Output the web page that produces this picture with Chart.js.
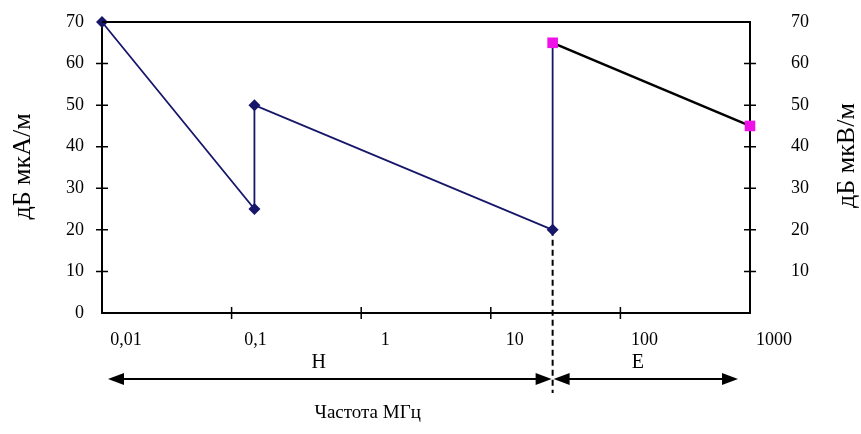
<!DOCTYPE html>
<html>
<head>
<meta charset="utf-8">
<script src="https://cdn.jsdelivr.net/npm/chart.js@4.4.1/dist/chart.umd.min.js"></script>
<style>
html,body{margin:0;padding:0;background:#fff;}
canvas{display:block;}
</style>
</head>
<body>
<canvas id="c" width="861" height="434"></canvas>
<script>
// ---- data ----
const freqH  = [0.01, 0.15, 0.15, 30, 30];
const levelH = [70, 25, 50, 20, 65];
const freqE  = [30, 1000];
const levelE = [65, 45];
const xTickValues = [0.01, 0.1, 1, 10, 100, 1000];
const xTickLabels = ['0,01', '0,1', '1', '10', '100', '1000'];
const boundaryFreq = 30;
const boundaryLevel = 20;
const xTitle = 'Частота МГц';
const yLeftTitle = 'дБ мкА/м';
const yRightTitle = 'дБ мкВ/м';
const zoneH = 'H';
const zoneE = 'E';

const SERIF = '"Liberation Serif", "Times New Roman", serif';
const NAVY = '#16166a';

const extras = {
  id: 'extras',
  beforeDatasetsDraw(chart) {
    const {ctx, chartArea: a, scales: {x, y}} = chart;
    const bx = x.getPixelForValue(boundaryFreq);
    ctx.save();
    ctx.strokeStyle = '#000';
    ctx.lineWidth = 2;
    ctx.setLineDash([6, 4]);
    ctx.beginPath();
    ctx.moveTo(bx, y.getPixelForValue(boundaryLevel));
    ctx.lineTo(bx, a.bottom + 80);
    ctx.stroke();
    ctx.restore();
  },
  afterDraw(chart) {
    const {ctx, chartArea: a, scales: {x, y, y2}} = chart;
    ctx.save();
    ctx.strokeStyle = '#000';
    ctx.fillStyle = '#000';
    ctx.lineWidth = 2;
    // top frame line
    ctx.beginPath();
    ctx.moveTo(a.left, a.top);
    ctx.lineTo(a.right, a.top);
    ctx.stroke();
    // crossing tick marks
    ctx.lineWidth = 1.5;
    ctx.beginPath();
    xTickValues.slice(1, -1).forEach(v => {
      const px = x.getPixelForValue(v);
      ctx.moveTo(px, a.bottom - 6);
      ctx.lineTo(px, a.bottom + 6);
    });
    for (let v = 10; v <= 60; v += 10) {
      const py = y.getPixelForValue(v);
      ctx.moveTo(a.left - 6, py);
      ctx.lineTo(a.left + 6, py);
      const py2 = y2.getPixelForValue(v);
      ctx.moveTo(a.right - 6, py2);
      ctx.lineTo(a.right + 6, py2);
    }
    ctx.stroke();

    // arrows
    const ay = a.bottom + 66;
    const bx = x.getPixelForValue(boundaryFreq);
    const hL = a.left + 6, hR = bx - 1, eL = bx + 1, eR = a.right - 12;
    ctx.lineWidth = 2;
    ctx.beginPath();
    ctx.moveTo(hL + 10, ay); ctx.lineTo(hR - 10, ay);
    ctx.moveTo(eL + 10, ay); ctx.lineTo(eR - 10, ay);
    ctx.stroke();
    const head = (tipX, dir) => {
      ctx.beginPath();
      ctx.moveTo(tipX, ay);
      ctx.lineTo(tipX - dir * 16, ay - 6);
      ctx.lineTo(tipX - dir * 16, ay + 6);
      ctx.closePath();
      ctx.fill();
    };
    head(hL, -1); head(hR, 1); head(eL, -1); head(eR, 1);

    // zone labels
    ctx.font = '20px ' + SERIF;
    ctx.textAlign = 'center';
    ctx.textBaseline = 'middle';
    ctx.fillText(zoneH, (hL + hR) / 2 - 11, ay - 16);
    ctx.fillText(zoneE, (eL + eR) / 2 - 8, ay - 16);

    // axis titles
    ctx.font = '19px ' + SERIF;
    ctx.fillText(xTitle, a.left + (a.right - a.left) * 0.41, chart.height - 21);

    ctx.font = '26px ' + SERIF;
    ctx.save();
    ctx.translate(23, (a.top + a.bottom) / 2 - 1);
    ctx.rotate(-Math.PI / 2);
    ctx.fillText(yLeftTitle, 0, 0);
    ctx.restore();
    ctx.save();
    ctx.translate(chart.width - 14, (a.top + a.bottom) / 2 - 12);
    ctx.rotate(-Math.PI / 2);
    ctx.fillText(yRightTitle, 0, 0);
    ctx.restore();
    ctx.restore();
  }
};

const tickFont = {family: SERIF, size: 18};

new Chart(document.getElementById('c'), {
  type: 'line',
  data: {
    datasets: [
      {
        label: 'E',
        data: freqE.map((f, i) => ({x: f, y: levelE[i]})),
        yAxisID: 'y2',
        borderColor: '#000',
        borderWidth: 2.5,
        pointStyle: 'rect',
        pointRadius: 7.5,
        pointBackgroundColor: '#f010e8',
        pointBorderColor: '#f010e8',
        pointBorderWidth: 0,
        clip: false,
        order: 0
      },
      {
        label: 'H',
        data: freqH.map((f, i) => ({x: f, y: levelH[i]})),
        yAxisID: 'y',
        borderColor: NAVY,
        borderWidth: 1.8,
        pointStyle: 'rectRot',
        pointRadius: [6, 6, 6, 6, 0],
        pointBackgroundColor: NAVY,
        pointBorderColor: NAVY,
        pointBorderWidth: 0,
        clip: false,
        order: 1
      }
    ]
  },
  options: {
    responsive: false,
    animation: false,
    events: [],
    layout: {padding: 0},
    plugins: {legend: {display: false}, tooltip: {enabled: false}},
    scales: {
      x: {
        type: 'logarithmic',
        position: 'bottom',
        min: 0.01,
        max: 1000,
        afterBuildTicks: s => { s.ticks = xTickValues.map(v => ({value: v})); },
        afterFit: s => { s.height = 121; s.paddingLeft = 0; s.paddingRight = 0; },
        grid: {display: false},
        border: {color: '#000', width: 2},
        ticks: {
          callback: (v, i) => xTickLabels[i],
          autoSkip: false,
          maxRotation: 0,
          labelOffset: 24,
          padding: 8,
          color: '#000',
          font: tickFont
        }
      },
      y: {
        position: 'left',
        min: 0,
        max: 70,
        afterFit: s => { s.width = 102; s.paddingTop = 22; s.paddingBottom = 0; },
        grid: {display: false},
        border: {color: '#000', width: 2},
        ticks: {stepSize: 10, padding: 10, color: '#000', font: tickFont}
      },
      y2: {
        position: 'right',
        min: 0,
        max: 70,
        afterFit: s => { s.width = 111; s.paddingTop = 22; s.paddingBottom = 0; },
        grid: {display: false},
        border: {color: '#000', width: 2},
        ticks: {
          stepSize: 10,
          padding: 33,
          color: '#000',
          font: tickFont,
          callback: v => (v === 0 ? '' : v)
        }
      }
    }
  },
  plugins: [extras]
});
</script>
</body>
</html>
